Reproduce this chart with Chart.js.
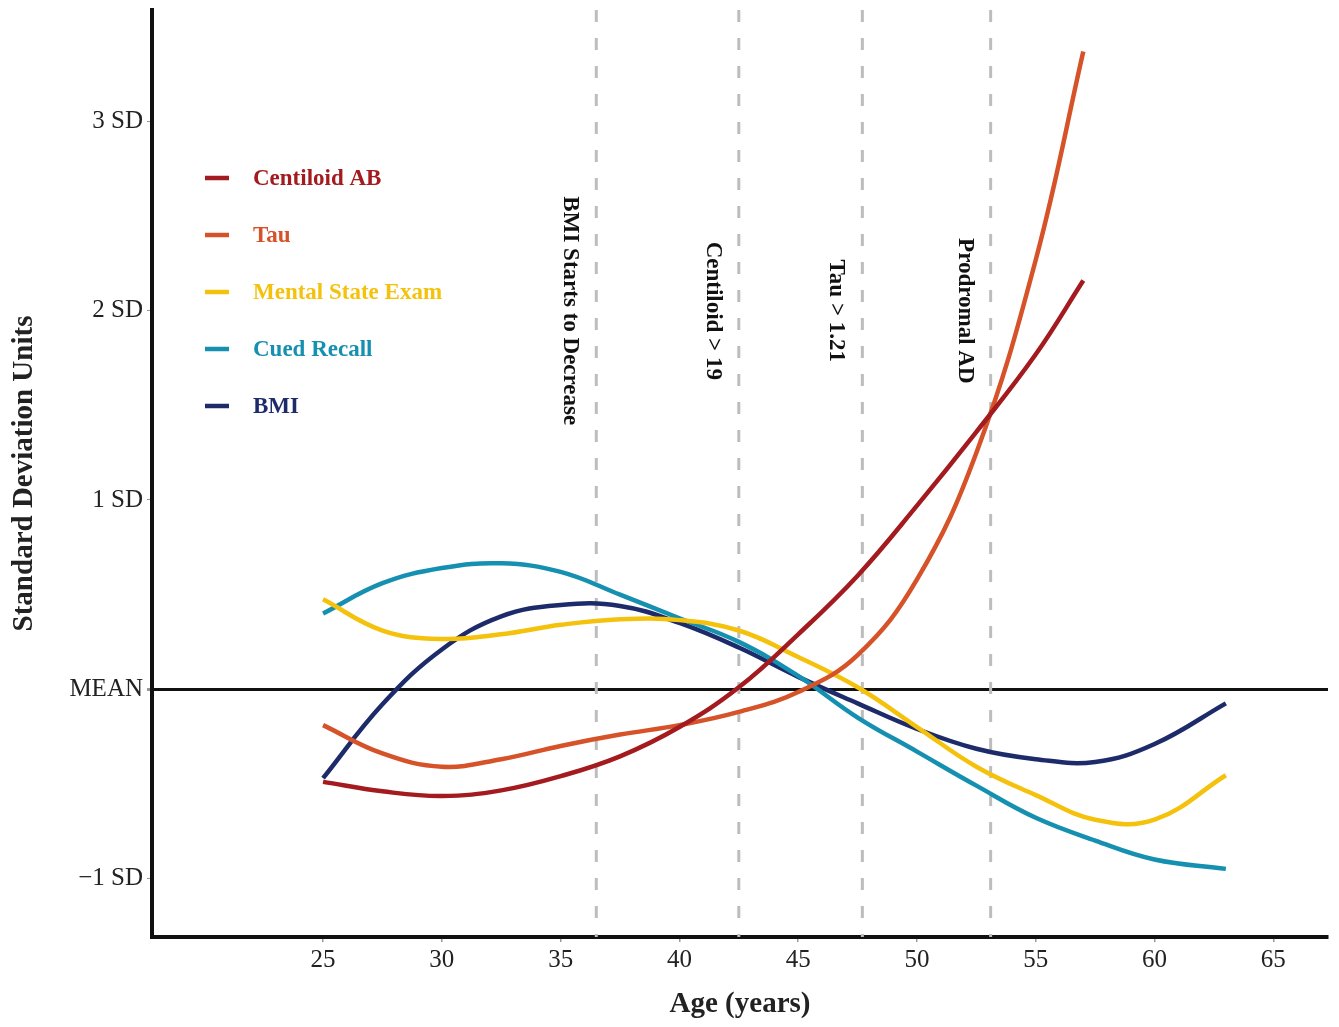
<!DOCTYPE html>
<html>
<head>
<meta charset="utf-8">
<script src="https://cdn.jsdelivr.net/npm/chart.js@4.4.1/dist/chart.umd.min.js"></script>
<style>
  html, body { margin: 0; padding: 0; background: #fff; }
  #wrap { width: 1339px; height: 1027px; position: relative; }
</style>
</head>
<body>
<div id="wrap"><canvas id="chart"></canvas></div>
<script>
// ages
const agesShort = [25, 27.5, 30, 32.5, 35, 37.5, 40, 42.5, 45, 47.5, 50, 52.5, 55, 57];
const agesLong  = [25, 27.5, 30, 32.5, 35, 37.5, 40, 42.5, 45, 47.5, 50, 52.5, 55, 57.5, 60, 63];

const centiloid = [-0.49, -0.54, -0.565, -0.535, -0.46, -0.355, -0.2, 0.01, 0.29, 0.60, 0.97, 1.36, 1.77, 2.16];
const tau       = [-0.19, -0.34, -0.41, -0.37, -0.30, -0.24, -0.19, -0.12, -0.015, 0.18, 0.58, 1.25, 2.27, 3.37];
const mental    = [0.475, 0.31, 0.265, 0.29, 0.34, 0.37, 0.365, 0.31, 0.17, 0.01, -0.2, -0.41, -0.56, -0.69, -0.69, -0.455];
const cued      = [0.40, 0.56, 0.64, 0.665, 0.62, 0.50, 0.375, 0.25, 0.07, -0.15, -0.33, -0.51, -0.68, -0.8, -0.9, -0.95];
const bmi       = [-0.47, -0.08, 0.21, 0.385, 0.445, 0.44, 0.35, 0.22, 0.065, -0.075, -0.21, -0.315, -0.37, -0.385, -0.29, -0.075];

const seriesNames  = ["Centiloid AB", "Tau", "Mental State Exam", "Cued Recall", "BMI"];
const seriesColors = ["#A31A1F", "#D6532A", "#F4C20D", "#1690B0", "#1D2B6B"];

const xTicks = [25, 30, 35, 40, 45, 50, 55, 60, 65];
const yTicks = [-1, 0, 1, 2, 3];
const yTickLabels = ["\u22121 SD", "MEAN", "1 SD", "2 SD", "3 SD"];

// milestone lines
const milestoneAges   = [36.5, 42.5, 47.7, 53.1];
const milestoneLabels = ["BMI Starts to Decrease", "Centiloid > 19", "Tau > 1.21", "Prodromal AD"];

const FONT = "'Liberation Serif', 'Times New Roman', serif";

function pts(xs, ys) {
    return ys.map((y, i) => ({ x: xs[i], y: y }));
}

const allSeries = [
    pts(agesShort, centiloid),
    pts(agesShort, tau),
    pts(agesLong, mental),
    pts(agesLong, cued),
    pts(agesLong, bmi)
];

const datasets = allSeries.map((d, i) => ({
    label: seriesNames[i],
    data: d,
    borderColor: seriesColors[i],
    backgroundColor: seriesColors[i],
    borderWidth: 4.5,
    pointRadius: 0,
    tension: 0.4,
    fill: false
}));

const milestonePlugin = {
    id: "milestones",
    beforeDatasetsDraw(chart) {
        const { ctx, chartArea, scales } = chart;
        ctx.save();
        ctx.strokeStyle = "#BDBDBD";
        ctx.lineWidth = 3;
        ctx.setLineDash([12, 16]);
        milestoneAges.forEach(a => {
            const x = scales.x.getPixelForValue(a);
            ctx.beginPath();
            ctx.moveTo(x, chartArea.top);
            ctx.lineTo(x, chartArea.bottom);
            ctx.stroke();
        });
        ctx.setLineDash([]);
        ctx.fillStyle = "#111";
        ctx.font = "bold 23px " + FONT;
        ctx.textAlign = "center";
        ctx.textBaseline = "middle";
        const yMid = scales.y.getPixelForValue(2);
        milestoneAges.forEach((a, i) => {
            const x = scales.x.getPixelForValue(a) - 26;
            ctx.save();
            ctx.translate(x, yMid);
            ctx.rotate(Math.PI / 2);
            ctx.fillText(milestoneLabels[i], 0, 0);
            ctx.restore();
        });
        ctx.restore();
    },
    afterDraw(chart) {
        // legend
        const { ctx } = chart;
        ctx.save();
        ctx.font = "bold 23px " + FONT;
        ctx.textBaseline = "middle";
        ctx.textAlign = "left";
        seriesNames.forEach((name, i) => {
            const y = 178 + i * 57;
            ctx.strokeStyle = seriesColors[i];
            ctx.lineWidth = 4.5;
            ctx.beginPath();
            ctx.moveTo(205, y);
            ctx.lineTo(229, y);
            ctx.stroke();
            ctx.fillStyle = seriesColors[i];
            ctx.fillText(name, 253, y + 1);
        });
        ctx.restore();
    }
};

new Chart(document.getElementById("chart"), {
    type: "line",
    data: { datasets: datasets },
    plugins: [milestonePlugin],
    options: {
        responsive: true,
        maintainAspectRatio: false,
        animation: false,
        layout: { padding: { top: 10, right: 11, left: 0, bottom: 0 } },
        plugins: {
            legend: { display: false },
            tooltip: { enabled: false }
        },
        scales: {
            x: {
                type: "linear",
                min: 17.8,
                max: 67.3,
                afterBuildTicks: s => { s.ticks = xTicks.map(v => ({ value: v })); },
                afterFit: s => { s.height = 90; s.paddingLeft = 0; s.paddingRight = 0; },
                ticks: {
                    color: "#222",
                    font: { family: FONT, size: 25 },
                    padding: 3,
                    maxRotation: 0,
                    autoSkip: false
                },
                grid: {
                    color: "transparent",
                    tickColor: "#999",
                    tickLength: 5,
                    lineWidth: 1.5
                },
                border: { color: "#111", width: 4 },
                title: {
                    display: true,
                    text: "Age (years)",
                    color: "#222",
                    font: { family: FONT, size: 29, weight: "bold" },
                    padding: { top: 0, bottom: 5 }
                }
            },
            y: {
                type: "linear",
                min: -1.31,
                max: 3.59,
                afterBuildTicks: s => { s.ticks = yTicks.map(v => ({ value: v })); },
                afterFit: s => { s.width = 152; s.paddingTop = 0; s.paddingBottom = 0; },
                ticks: {
                    color: "#222",
                    font: { family: FONT, size: 25 },
                    padding: 4,
                    callback: v => yTickLabels[yTicks.indexOf(v)]
                },
                grid: {
                    color: c => (c.tick && c.tick.value === 0) ? "#111" : "transparent",
                    lineWidth: c => (c.tick && c.tick.value === 0) ? 3 : 1,
                    tickColor: "#999",
                    tickLength: 5
                },
                border: { color: "#111", width: 4 },
                title: {
                    display: true,
                    text: "Standard Deviation Units",
                    color: "#222",
                    font: { family: FONT, size: 29, weight: "bold" },
                    padding: { top: 7, bottom: 0 }
                }
            }
        }
    }
});
</script>
</body>
</html>
